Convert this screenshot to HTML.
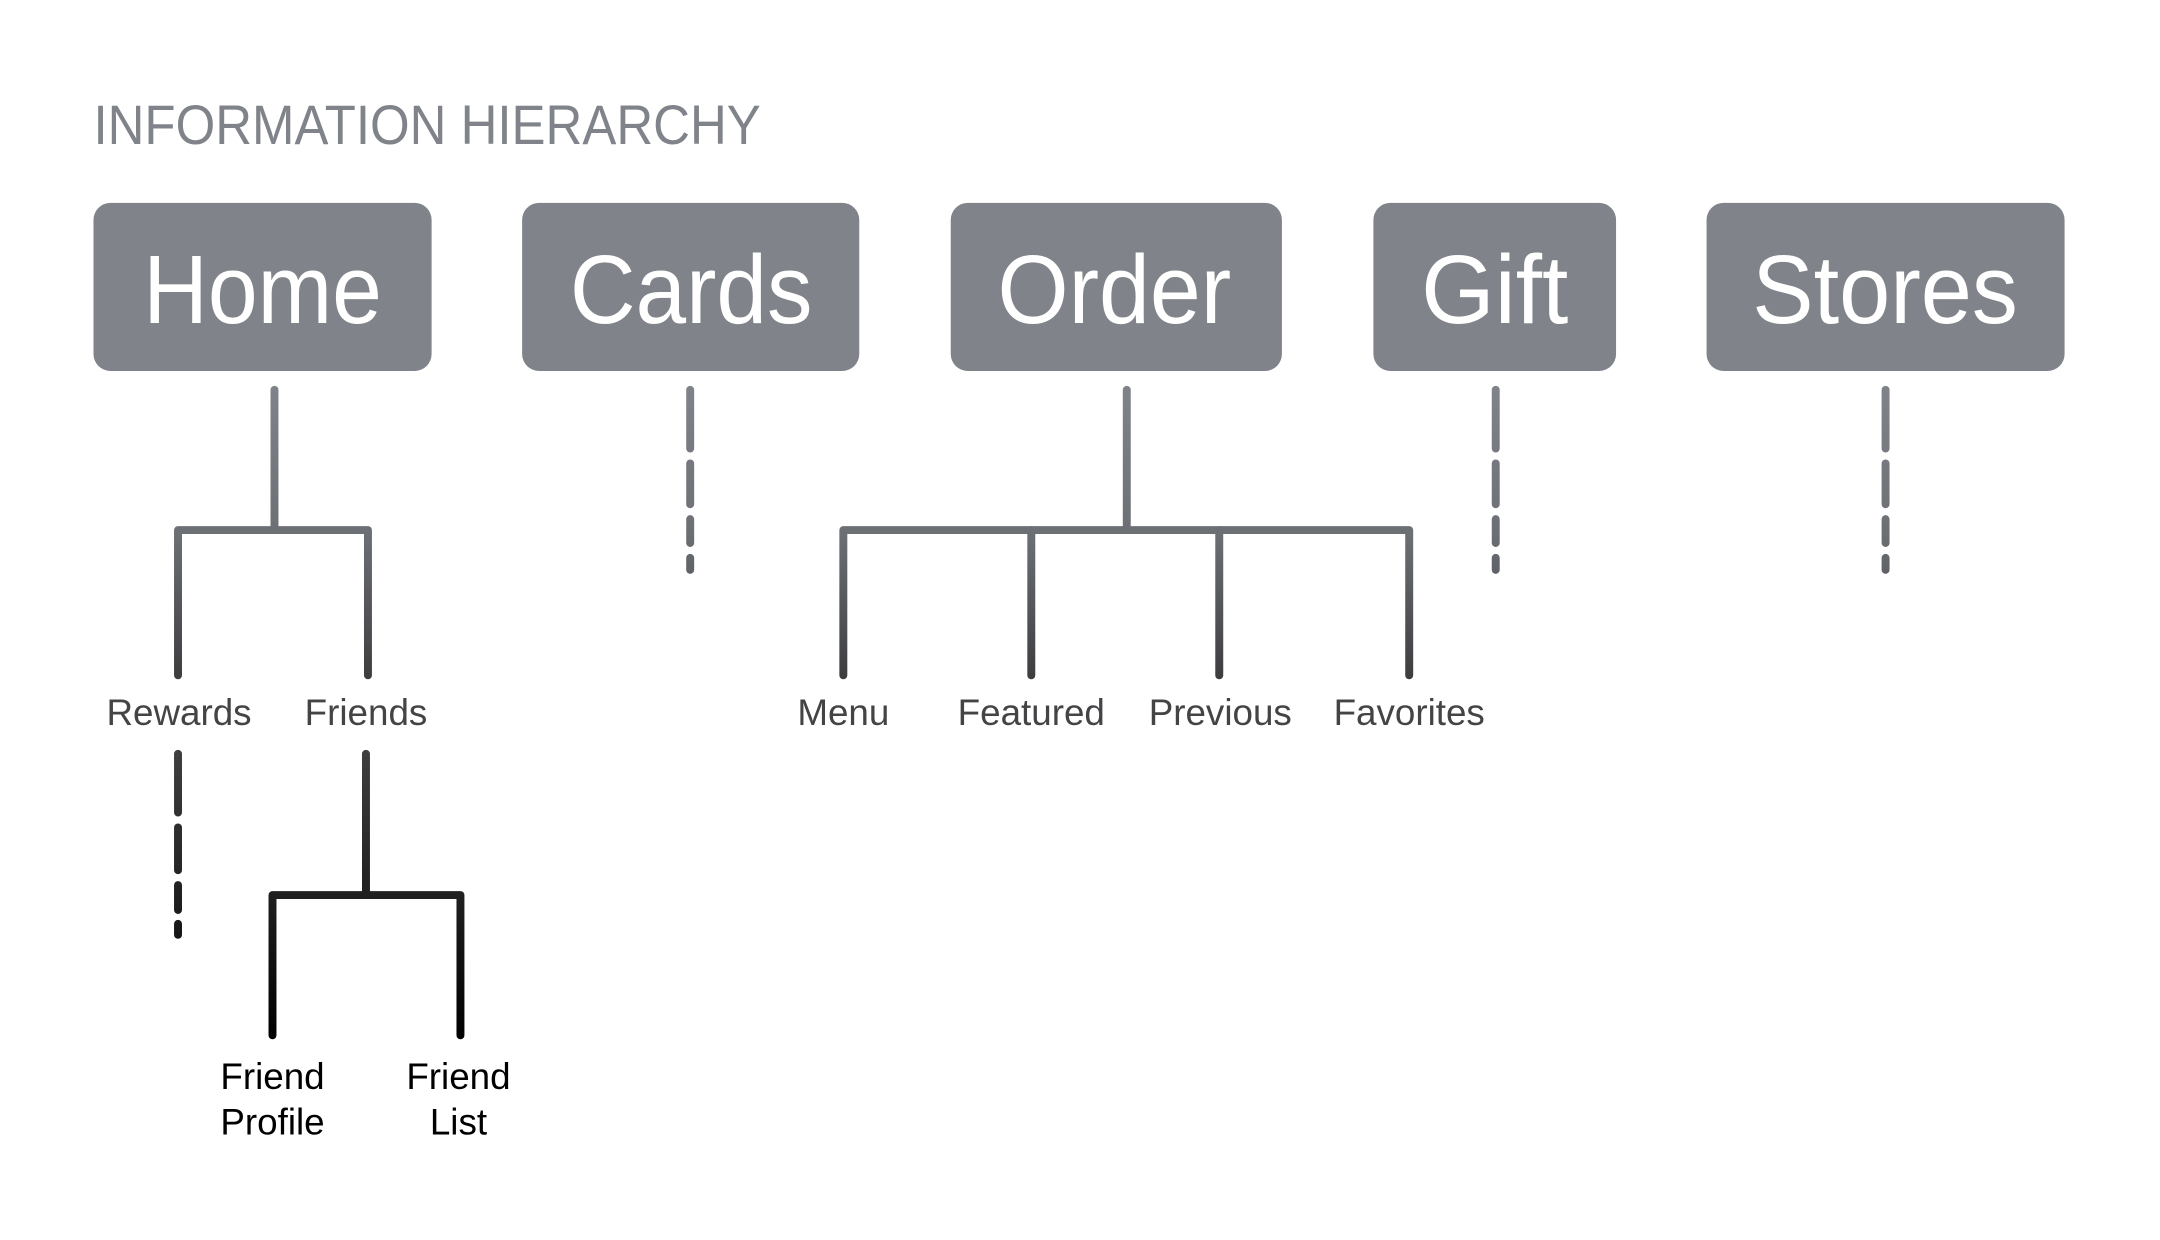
<!DOCTYPE html>
<html><head><meta charset="utf-8"><style>
html,body{margin:0;padding:0;background:#fff;}
svg{display:block;}
text{font-family:"Liberation Sans",sans-serif;}
</style></head><body>
<svg width="2160" height="1240" viewBox="0 0 2160 1240" xmlns="http://www.w3.org/2000/svg">
<defs>
<linearGradient id="g1" gradientUnits="userSpaceOnUse" x1="0" y1="385" x2="0" y2="685">
<stop offset="0" stop-color="#80848a"/><stop offset="0.5" stop-color="#6c7075"/><stop offset="1" stop-color="#3c3c3e"/>
</linearGradient>
<linearGradient id="g2" gradientUnits="userSpaceOnUse" x1="0" y1="750" x2="0" y2="1045">
<stop offset="0" stop-color="#404042"/><stop offset="1" stop-color="#000"/>
</linearGradient>
</defs>
<g transform="scale(0.9945)">
<text x="94" y="145" font-size="56" fill="#80848a" textLength="671" lengthAdjust="spacingAndGlyphs">INFORMATION HIERARCHY</text>

<g fill="#80848a">
<rect x="94" y="204" width="340" height="169" rx="17"/>
<rect x="525" y="204" width="339" height="169" rx="17"/>
<rect x="956" y="204" width="333" height="169" rx="17"/>
<rect x="1381" y="204" width="244" height="169" rx="17"/>
<rect x="1716" y="204" width="360" height="169" rx="17"/>
</g>
<g fill="#fff" font-size="98">
<text x="144" y="325" textLength="240" lengthAdjust="spacingAndGlyphs">Home</text>
<text x="573" y="325" textLength="244" lengthAdjust="spacingAndGlyphs">Cards</text>
<text x="1003" y="325" textLength="235" lengthAdjust="spacingAndGlyphs">Order</text>
<text x="1429" y="325" textLength="148" lengthAdjust="spacingAndGlyphs">Gift</text>
<text x="1762" y="325" textLength="267" lengthAdjust="spacingAndGlyphs">Stores</text>
</g>

<g stroke="url(#g1)" stroke-width="8" stroke-linecap="round" fill="none">
<line x1="276" y1="392" x2="276" y2="530"/>
<polyline points="179,679 179,533 370,533 370,679" stroke-linejoin="round"/>
<line x1="694" y1="392" x2="694" y2="451"/>
<line x1="694" y1="466" x2="694" y2="507"/>
<line x1="694" y1="522" x2="694" y2="546"/>
<line x1="694" y1="561" x2="694" y2="573"/>
<line x1="1133" y1="392" x2="1133" y2="530"/>
<polyline points="848,679 848,533 1417,533 1417,679" stroke-linejoin="round"/>
<line x1="1037" y1="533" x2="1037" y2="679"/>
<line x1="1226" y1="533" x2="1226" y2="679"/>
<line x1="1504" y1="392" x2="1504" y2="451"/>
<line x1="1504" y1="466" x2="1504" y2="507"/>
<line x1="1504" y1="522" x2="1504" y2="546"/>
<line x1="1504" y1="561" x2="1504" y2="573"/>
<line x1="1896" y1="392" x2="1896" y2="451"/>
<line x1="1896" y1="466" x2="1896" y2="507"/>
<line x1="1896" y1="522" x2="1896" y2="546"/>
<line x1="1896" y1="561" x2="1896" y2="573"/>
</g>

<g fill="#444446" font-size="37" text-anchor="middle">
<text x="180" y="729">Rewards</text>
<text x="368" y="729">Friends</text>
<text x="848" y="729">Menu</text>
<text x="1037" y="729">Featured</text>
<text x="1227" y="729">Previous</text>
<text x="1417" y="729">Favorites</text>
</g>

<g stroke="url(#g2)" stroke-width="8" stroke-linecap="round" fill="none">
<line x1="179" y1="758" x2="179" y2="817"/>
<line x1="179" y1="832" x2="179" y2="875"/>
<line x1="179" y1="890" x2="179" y2="915"/>
<line x1="179" y1="929" x2="179" y2="940"/>
<line x1="368" y1="758" x2="368" y2="898"/>
<polyline points="274,1041 274,900 463,900 463,1041" stroke-linejoin="round"/>
</g>

<g fill="#000" font-size="37" text-anchor="middle">
<text x="274" y="1095">Friend</text>
<text x="274" y="1141">Profile</text>
<text x="461" y="1095">Friend</text>
<text x="461" y="1141">List</text>
</g>
</g>
</svg>
</body></html>
